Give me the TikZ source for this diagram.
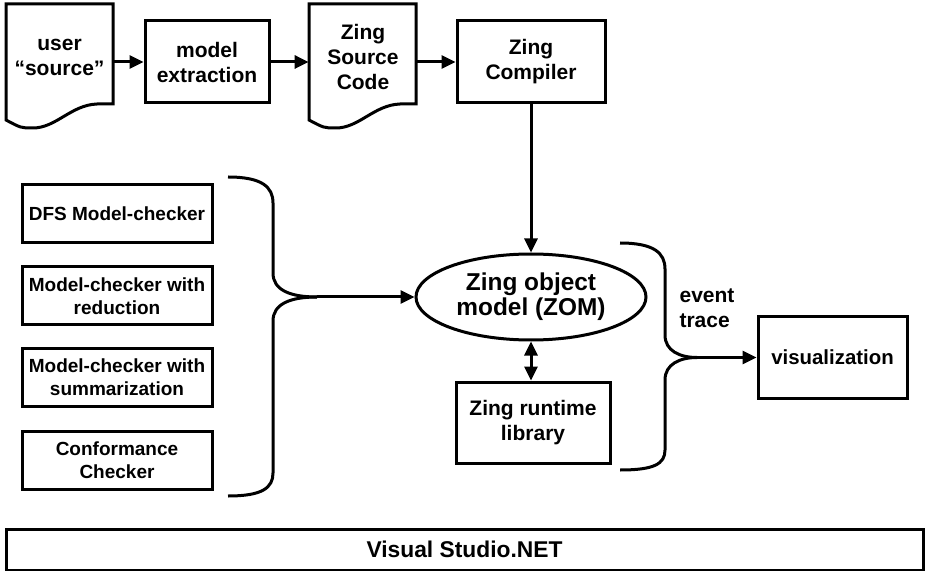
\documentclass[tikz,border=0pt]{standalone}
\usepackage{fontspec}
\setmainfont{Liberation Sans}
\usetikzlibrary{arrows.meta}
\usetikzlibrary{shapes.geometric}

\begin{document}
\begin{tikzpicture}[x=0.5pt, y=-0.5pt,
    lw/.style={line width=1.5pt},
    zbox/.style={lw, draw, align=center, inner sep=0pt, font=\bfseries\fontsize{10.5}{12.5}\selectfont},
    doctext/.style={align=center, inner sep=0pt, minimum width=54pt, font=\bfseries\fontsize{10.5}{12.5}\selectfont},
    checker/.style={zbox, minimum width=95pt, minimum height=29pt, font=\bfseries\fontsize{9.5}{11.5}\selectfont},
    zarrow/.style={lw, -{Triangle[length=7pt, width=6.5pt]}},
    docpage/.pic={\draw[lw] (0,0) -- (107,0) -- (107,100) -- (91,100) .. controls (65,101) and (50,124) .. (27,124) .. controls (15,124) .. (0,116) -- cycle;}]
  \useasboundingbox (0,0) rectangle (925,571);

  \pic at (6,4) {docpage};
  \pic at (309,4) {docpage};
  \node[doctext] (user) at (59.5,57) {user\\“source”};
  \node[zbox, minimum width=62pt, minimum height=41pt] (extract) at (207,62) {model\\extraction};
  \node[doctext] (zsrc) at (363,57) {Zing\\Source\\Code};
  \node[zbox, minimum width=74pt, minimum height=41pt] (compiler) at (531,62) {Zing\\Compiler};

  \node[checker] (dfs) at (117,214) {DFS Model-checker};
  \node[checker] (reduct) at (117,296) {Model-checker with\\reduction};
  \node[checker] (summ) at (117,377.5) {Model-checker with\\summarization};
  \node[checker] (conf) at (117,460) {Conformance\\Checker};

  \node[lw, draw, ellipse, inner sep=0pt, minimum width=115pt, minimum height=43pt, align=center,
    font=\bfseries\fontsize{12.2}{12.5}\selectfont] (zom) at (531,297) {Zing object\\model (ZOM)};
  \node[zbox, minimum width=77pt, minimum height=40.5pt] (runtime) at (533,422.5) {Zing runtime\\library};
  \node[zbox, minimum width=74.5pt, minimum height=40.5pt, font=\bfseries\fontsize{10.2}{12}\selectfont] (viz) at (832.5,357.5) {visualization};
  \node[align=left, inner sep=0pt, font=\bfseries\fontsize{10.5}{12.5}\selectfont] (evt) at (707,308) {event\\trace};
  \node[zbox, minimum width=458.5pt, minimum height=20.5pt, font=\bfseries\fontsize{11.4}{13}\selectfont] (vsnet) at (464.5,549.5) {Visual Studio.NET};

  \coordinate (ltip) at (317,297);
  \coordinate (rtip) at (697,357.5);

  \draw[zarrow] (user.east |- extract.west) -- (extract.west);
  \draw[zarrow] (extract.east) -- (zsrc.west |- extract.east);
  \draw[zarrow] (zsrc.east |- compiler.west) -- (compiler.west);
  \draw[zarrow] (compiler.south) -- (zom.north);

  \draw[lw] (228,177) .. controls (262,177) and (273,187) .. (273,203) -- (273,273) .. controls (273,290) and (290,297) .. (ltip);
  \draw[lw] (ltip) .. controls (290,297) and (273,304) .. (273,321) -- (273,473) .. controls (273,488) and (262,496) .. (228,496);
  \draw[zarrow] (ltip) -- (zom.west);

  \draw[lw, {Triangle[length=7pt, width=6.5pt]}-{Triangle[length=7pt, width=6.5pt]}] (zom.south) -- (zom.south |- runtime.north);

  \draw[lw] (620,243) .. controls (654,243) and (665,253) .. (665,269) -- (665,335) .. controls (665,351) and (680,357.5) .. (rtip);
  \draw[lw] (rtip) .. controls (680,357.5) and (665,364) .. (665,380) -- (665,450) .. controls (665,464) and (654,470) .. (620,470);
  \draw[zarrow] (rtip) -- (viz.west);
\end{tikzpicture}
\end{document}
